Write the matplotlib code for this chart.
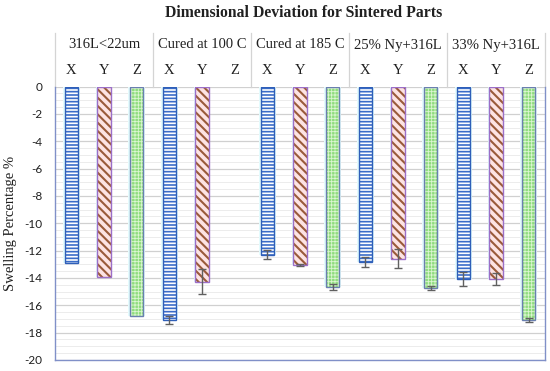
import numpy as np
import matplotlib
matplotlib.use("Agg")
import matplotlib.pyplot as plt
from matplotlib.ticker import MultipleLocator

groups = ['316L<22um', 'Cured at 100 C', 'Cured at 185 C', '25% Ny+316L', '33% Ny+316L']
dims = ['X', 'Y', 'Z']
x_vals = [-12.9, -17.05, -12.3, -12.85, -14.07]
x_err = [0.0, 0.3, 0.35, 0.35, 0.5]
y_vals = [-13.9, -14.27, -13.05, -12.6, -14.07]
y_err = [0.0, 0.9, 0.1, 0.7, 0.45]
z_vals = [-16.75, np.nan, -14.65, -14.75, -17.05]
z_err = [0.0, np.nan, 0.2, 0.15, 0.15]
yticks = [0, -2, -4, -6, -8, -10, -12, -14, -16, -18, -20]

serif = ['Liberation Serif', 'DejaVu Serif']
sans = ['Lato', 'DejaVu Sans']

fig = plt.figure(figsize=(5.5, 3.71), dpi=100)
fig.patch.set_facecolor('white')
ax = fig.add_axes([55/550, 1-360/371, 490/550, (360-86.5)/371])

styles = [
    dict(face='white', hatch='-----', hcolor='#3a6cc8', edge='#2f5fb8', hlw=1.2),
    dict(face='#fde3e3', hatch='\\\\\\\\', hcolor='#9a5a3a', edge='#9b6fc8', hlw=1.5),
    dict(face='#8fdc7e', hatch='+++++', hcolor='#dcf6d2', edge='#6a7fb0', hlw=0.6),
]
series = [(x_vals, x_err), (y_vals, y_err), (z_vals, z_err)]
width = 0.4
for k, (vals, errs) in enumerate(series):
    st = styles[k]
    xs, vs, es = [], [], []
    for g in range(len(groups)):
        if np.isnan(vals[g]):
            continue
        xs.append(g*3 + k + 0.5)
        vs.append(vals[g])
        es.append(errs[g])
    ax.bar(xs, vs, width=width+0.12, color='#e4fbfd', linewidth=0, zorder=2)
    with plt.rc_context({'hatch.linewidth': st['hlw']}):
        bars = ax.bar(xs, vs, width=width, facecolor=st['face'], hatch=st['hatch'],
                      edgecolor=st['hcolor'], linewidth=0, zorder=3)
        for b in bars:
            if hasattr(b, 'set_hatch_linewidth'):
                b.set_hatch_linewidth(st['hlw'])
    ax.bar(xs, vs, width=width, fill=False, edgecolor=st['edge'], linewidth=1.0, zorder=4)
    xe = [x for x, e in zip(xs, es) if e > 0]
    ve = [v for v, e in zip(vs, es) if e > 0]
    ee = [e for e in es if e > 0]
    ax.errorbar(xe, ve, yerr=ee, fmt='none', ecolor='#606060', elinewidth=1.0,
                capsize=3, capthick=1.0, zorder=5)

ax.set_xlim(0, 15)
ax.set_ylim(-20, 0)
ax.set_yticks(yticks)
ax.set_yticklabels([str(t) for t in yticks], fontfamily=sans, fontsize=8.5, color='#202020')
ax.yaxis.set_minor_locator(MultipleLocator(0.5))
ax.tick_params(axis='y', which='both', length=0, pad=9)
ax.set_xticks([])
ax.grid(axis='y', which='major', color='#d0d0d0', linewidth=0.9, zorder=0)
ax.grid(axis='y', which='minor', color='#ececec', linewidth=0.7, zorder=0)
ax.set_axisbelow(True)
for s in ['left', 'right', 'bottom']:
    ax.spines[s].set_color('#8090c8')
    ax.spines[s].set_linewidth(1.0)
ax.spines['top'].set_visible(False)

trans = ax.get_xaxis_transform()
for g, name in enumerate(groups):
    ax.text(g*3 + 1.5, (360-45)/273.5, name, transform=trans, ha='center', va='center',
            fontfamily=serif, fontsize=10.5, color='#202020', clip_on=False)
    for k, d in enumerate(dims):
        ax.text(g*3 + k + 0.5, (360-70)/273.5, d, transform=trans, ha='center', va='center',
                fontfamily=serif, fontsize=10.5, color='#202020', clip_on=False)
for b in range(len(groups) + 1):
    ax.plot([b*3, b*3], [1.0, (360-33)/273.5], transform=trans, color='#d4d4d4',
            linewidth=0.9, clip_on=False, zorder=1)

ax.set_ylabel('Swelling Percentage %', fontfamily=serif, fontsize=10.5, color='#202020', labelpad=5)
fig.text(304/550, 1-13/371, 'Dimensional Deviation for Sintered Parts', ha='center', va='center',
         fontfamily=serif, fontsize=11.3, fontweight='bold', color='#202020')

fig.savefig('out.png', dpi=100)
